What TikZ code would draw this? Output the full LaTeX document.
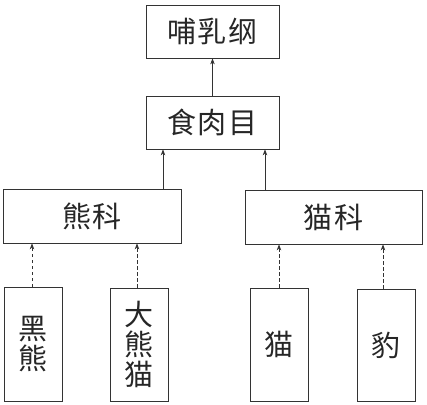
\documentclass[tikz,border=0pt]{standalone}
\usepackage{fontspec}
\newfontfamily\cjk[LetterSpace=6]{Noto Sans CJK SC}
\usetikzlibrary{arrows.meta}
\begin{document}
\begin{tikzpicture}[x=1pt,y=-1pt,
  box/.style={draw=black!80,line width=0.8pt,inner sep=0pt,font=\cjk\fontsize{29}{30}\selectfont,text=black!85},
  vbox/.style={box,minimum width=58pt,align=center,font=\cjk\fontsize{29}{30}\selectfont},
  solidarr/.style={draw=black!80,line width=0.7pt,-{Stealth[length=6pt,width=4.5pt]}},
  dasharr/.style={draw=black!80,line width=0.7pt,dash pattern=on 3.5pt off 2.5pt,-{Stealth[length=6pt,width=4.5pt]}}]
\useasboundingbox (0,0) rectangle (427,404);
\node[box,minimum width=133pt,minimum height=53pt] (mam) at (212.5,31.5) {哺乳纲};
\node[box,minimum width=133pt,minimum height=53pt] (car) at (212.5,122.5) {食肉目};
\node[box,minimum width=178pt,minimum height=54pt] (bear) at (92,216) {熊科};
\node[box,minimum width=177pt,minimum height=54pt] (cat) at (333.5,217) {猫科};
\node[vbox,minimum height=114pt] (hx) at (33,344.5) {黑\\熊};
\node[vbox,minimum height=113pt] (dxm) at (139,344.5) {大\\熊\\猫};
\node[vbox,minimum height=113pt] (m) at (279,344.5) {猫};
\node[vbox,minimum height=112pt] (b) at (386,345) {豹};
\draw[solidarr] (car.north) -- (mam.south);
\draw[solidarr] (bear.north -| 163,0) -- (car.south -| 163,0);
\draw[solidarr] (cat.north -| 265,0) -- (car.south -| 265,0);
\draw[dasharr] (hx.north -| 32,0) -- (bear.south -| 32,0);
\draw[dasharr] (dxm.north -| 137,0) -- (bear.south -| 137,0);
\draw[dasharr] (m.north -| 279,0) -- (cat.south -| 279,0);
\draw[dasharr] (b.north -| 383,0) -- (cat.south -| 383,0);
\end{tikzpicture}
\end{document}
